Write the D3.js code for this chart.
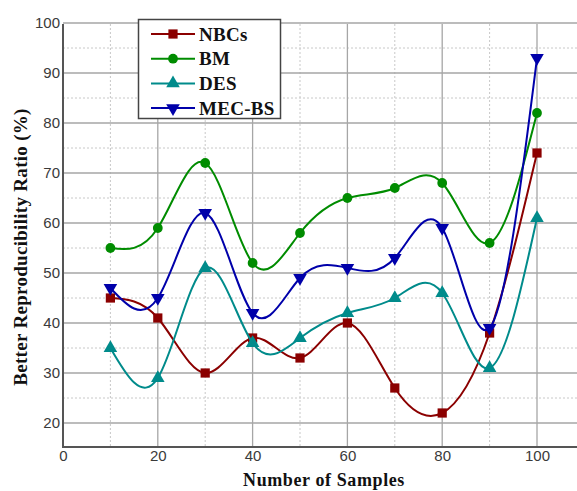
<!DOCTYPE html>
<html>
<head>
<meta charset="utf-8">
<script src="https://cdn.jsdelivr.net/npm/d3@7"></script>
<style>
  body { margin: 0; background: #fff; }
  .tick text { font-family: "Liberation Sans", Arial, sans-serif; font-size: 15px; fill: #3a3a3a; }
</style>
</head>
<body>
<div class="canvas"></div>
<script>
const samples = [10, 20, 30, 40, 50, 60, 70, 80, 90, 100];
const nbcs  = [45, 41, 30, 37, 33, 40, 27, 22, 38, 74];
const bm    = [55, 59, 72, 52, 58, 65, 67, 68, 56, 82];
const des   = [35, 29, 51, 36, 37, 42, 45, 46, 31, 61];
const mecbs = [47, 45, 62, 42, 49, 51, 53, 59, 39, 93];

const seriesNames = ['NBCs', 'BM', 'DES', 'MEC-BS'];
const xTicks = [0, 20, 40, 60, 80, 100];
const yTicks = [20, 30, 40, 50, 60, 70, 80, 90, 100];

const series = [
  { name: seriesNames[0], values: nbcs,  color: '#8b0000', symbol: d3.symbolSquare,   size: 85 },
  { name: seriesNames[1], values: bm,    color: '#008c00', symbol: d3.symbolCircle,   size: 75 },
  { name: seriesNames[2], values: des,   color: '#008b8b', symbol: d3.symbolTriangle, size: 80, rot: 0 },
  { name: seriesNames[3], values: mecbs, color: '#0000aa', symbol: d3.symbolTriangle, size: 80, rot: 180 }
];

const W = 577, H = 491;
const plotLeft = 63, plotRight = 577, plotTop = 24, plotBottom = 447;

const svg = d3.select('.canvas')
  .append('svg')
  .attr('width', W)
  .attr('height', H);

const x = d3.scaleLinear().domain([0, 100]).range([63, 537]);
const y = d3.scaleLinear().domain([20, 100]).range([423, 23]);

// grid
const grid = svg.append('g');
d3.range(25, 100, 10).forEach(v => {
  grid.append('line')
    .attr('x1', plotLeft).attr('x2', plotRight)
    .attr('y1', y(v)).attr('y2', y(v))
    .attr('stroke', '#c8c8c8').attr('stroke-dasharray', '2,2');
});
d3.range(10, 100, 20).forEach(v => {
  grid.append('line')
    .attr('x1', x(v)).attr('x2', x(v))
    .attr('y1', plotTop).attr('y2', plotBottom)
    .attr('stroke', '#c8c8c8').attr('stroke-dasharray', '2,2');
});
yTicks.forEach(v => {
  grid.append('line')
    .attr('x1', plotLeft).attr('x2', plotRight)
    .attr('y1', y(v)).attr('y2', y(v))
    .attr('stroke', '#a6a6a6').attr('stroke-width', 1.3);
});
xTicks.slice(1).forEach(v => {
  grid.append('line')
    .attr('x1', x(v)).attr('x2', x(v))
    .attr('y1', plotTop).attr('y2', plotBottom)
    .attr('stroke', '#a6a6a6').attr('stroke-width', 1.3);
});

// axes
const yAxis = d3.axisLeft(y).tickValues(yTicks).tickSize(0).tickPadding(3);
const xAxis = d3.axisBottom(x).tickValues(xTicks).tickSize(0).tickPadding(3);

const yAxisGroup = svg.append('g')
  .attr('transform', `translate(${plotLeft},0)`)
  .call(yAxis);
yAxisGroup.select('.domain').remove();

const xAxisGroup = svg.append('g')
  .attr('transform', `translate(0,${plotBottom})`)
  .call(xAxis);
xAxisGroup.select('.domain').remove();

svg.append('line')
  .attr('x1', plotLeft).attr('x2', plotLeft)
  .attr('y1', plotTop).attr('y2', plotBottom + 1)
  .attr('stroke', '#555').attr('stroke-width', 2);
svg.append('line')
  .attr('x1', plotLeft - 1).attr('x2', plotRight)
  .attr('y1', plotBottom).attr('y2', plotBottom)
  .attr('stroke', '#555').attr('stroke-width', 2);

// lines
const line = d3.line()
  .curve(d3.curveNatural)
  .x((d, i) => x(samples[i]))
  .y(d => y(d));

series.forEach(s => {
  svg.append('path')
    .datum(s.values)
    .attr('fill', 'none')
    .attr('stroke', s.color)
    .attr('stroke-width', 2)
    .attr('d', line);

  svg.append('g').selectAll('path')
    .data(s.values)
    .enter()
    .append('path')
      .attr('d', d3.symbol().type(s.symbol).size(s.size))
      .attr('transform', (d, i) => `translate(${x(samples[i])},${y(d)}) rotate(${s.rot || 0})`)
      .attr('fill', s.color);
});

// legend
const legend = svg.append('g');
legend.append('rect')
  .attr('x', 138.5).attr('y', 19.5)
  .attr('width', 142).attr('height', 99)
  .attr('fill', '#fff')
  .attr('stroke', '#444').attr('stroke-width', 1.5);

series.forEach((s, i) => {
  const ly = 34 + i * 24.7;
  legend.append('line')
    .attr('x1', 151).attr('x2', 195)
    .attr('y1', ly).attr('y2', ly)
    .attr('stroke', s.color).attr('stroke-width', 2);
  legend.append('path')
    .attr('d', d3.symbol().type(s.symbol).size(s.size))
    .attr('transform', `translate(173,${ly}) rotate(${s.rot || 0})`)
    .attr('fill', s.color);
  legend.append('text')
    .attr('x', 199).attr('y', ly + 6.5)
    .style('font-family', '"Liberation Serif", "Times New Roman", serif')
    .style('font-weight', 'bold')
    .style('font-size', '19px')
    .style('letter-spacing', '0.3px')
    .style('fill', '#111')
    .text(s.name);
});

// axis titles
svg.append('text')
  .attr('x', 324).attr('y', 486)
  .attr('text-anchor', 'middle')
  .style('font-family', '"Liberation Serif", "Times New Roman", serif')
  .style('font-weight', 'bold')
  .style('font-size', '18px')
  .style('letter-spacing', '0.6px')
  .style('fill', '#111')
  .text('Number of Samples');

svg.append('text')
  .attr('transform', 'translate(27,247) rotate(-90)')
  .attr('text-anchor', 'middle')
  .style('font-family', '"Liberation Serif", "Times New Roman", serif')
  .style('font-weight', 'bold')
  .style('font-size', '19px')
  .style('letter-spacing', '0.3px')
  .style('fill', '#111')
  .text('Better Reproducibility Ratio (%)');
</script>
</body>
</html>
